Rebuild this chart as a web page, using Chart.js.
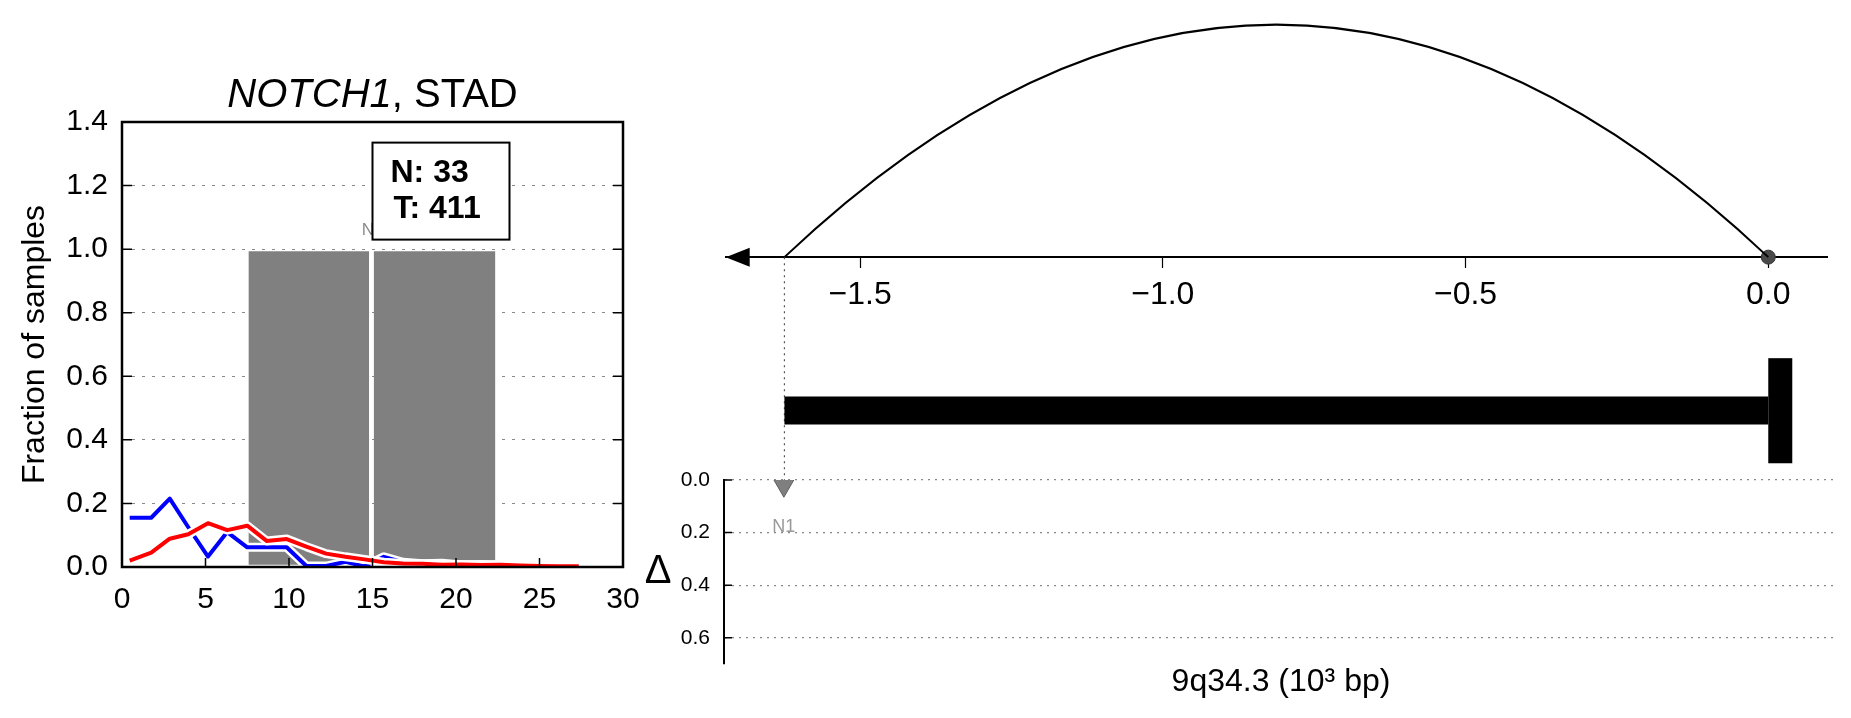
<!DOCTYPE html>
<html>
<head>
<meta charset="utf-8">
<script src="https://cdn.jsdelivr.net/npm/chart.js@4.4.0/dist/chart.umd.min.js"></script>
<style>
  html, body { margin: 0; padding: 0; background: #fff; }
  body { width: 1851px; height: 718px; position: relative; overflow: hidden; }
  canvas { position: absolute; }
  #fracChart { left: 0; top: 0; }
  #arcChart { left: 700px; top: 0; }
  #deltaChart { left: 600px; top: 440px; }
</style>
</head>
<body>
<canvas id="fracChart" width="680" height="718"></canvas>
<canvas id="arcChart" width="1151" height="480"></canvas>
<canvas id="deltaChart" width="1251" height="278"></canvas>
<script>
const FONT = "'Liberation Sans', Arial, sans-serif";

// left panel: fraction of samples
const fracX = [0.46, 1.75, 2.86, 3.97, 5.15, 6.3, 7.5, 8.66, 9.86, 11.04, 12.22, 13.38,
  14.52, 15.68, 16.82, 17.99, 19.16, 20.33, 21.5, 22.67, 23.84, 25.01, 26.18, 27.35];
const seriesBlue = [0.155, 0.155, 0.215, 0.125, 0.033, 0.11, 0.062, 0.062, 0.062, 0.003, 0.003, 0.016,
  0.002, 0.032, 0.015, 0.01, 0.012, 0.006, 0.008, 0.006, 0.004, 0.003, 0.002, 0.002];
const seriesRed = [0.02, 0.045, 0.089, 0.103, 0.138, 0.116, 0.13, 0.082, 0.088, 0.064, 0.042, 0.032,
  0.024, 0.015, 0.011, 0.01, 0.007, 0.008, 0.006, 0.007, 0.005, 0.003, 0.002, 0.002];
const shadeBins = [[7.57, 14.8], [15.07, 22.36]];
const shadeLow = 0.007;
const shadeHigh = 0.993;
const fracYTicks = [0, 0.2, 0.4, 0.6, 0.8, 1.0, 1.2, 1.4];
const fracXTicks = [0, 5, 10, 15, 20, 25, 30];
const countLines = ["N: 33", "T: 411"];
const countAnchor = { x: 15, y: 1.03 };
const sampleName = "N1";
const samplePos = { x: 15, y: 1.044 };

// right panel: genomic coordinates
const coordTicks = [-1.5, -1.0, -0.5, 0.0];
const arcStart = -1.625, arcEnd = 0.0, arcPeak = 1.038;
const geneStart = -1.625, geneEnd = 0.0, geneY = -0.684;
const capTop = -0.451, capBottom = -0.92;
const deltaTicks = [0, 0.2, 0.4, 0.6];
const markerX = [-1.625];
const markerDelta = [0.02];
const markerLabelDelta = 0.18;

const fmt1 = v => Number(v).toFixed(1);
const fmtMinus = v => (v < 0 ? "\u2212" : "") + Math.abs(v).toFixed(1);

function pts(xs, ys) { return xs.map((x, i) => ({ x: x, y: ys[i] })); }

// ---------- left chart ----------
const fracFrame = {
  id: "fracFrame",
  afterDatasetsDraw(chart) {
    const { ctx, chartArea: a, scales: { x, y } } = chart;
    ctx.save();
    // sample label (partly hidden by box)
    ctx.fillStyle = "#8c8c8c";
    ctx.font = "17px " + FONT;
    ctx.textAlign = "center";
    ctx.textBaseline = "alphabetic";
    ctx.fillText(sampleName, x.getPixelForValue(samplePos.x), y.getPixelForValue(samplePos.y));

    // frame
    ctx.strokeStyle = "#000";
    ctx.lineWidth = 2.5;
    ctx.strokeRect(a.left, a.top, a.right - a.left, a.bottom - a.top);
    ctx.lineWidth = 1.5;
    ctx.beginPath();
    fracYTicks.forEach(v => {
      const py = y.getPixelForValue(v);
      ctx.moveTo(a.left, py); ctx.lineTo(a.left + 10, py);
      ctx.moveTo(a.right, py); ctx.lineTo(a.right - 10, py);
    });
    fracXTicks.forEach(v => {
      const px = x.getPixelForValue(v);
      ctx.moveTo(px, a.bottom); ctx.lineTo(px, a.bottom - 9);
    });
    ctx.stroke();

    // count box
    const bx = x.getPixelForValue(countAnchor.x);
    const by = y.getPixelForValue(countAnchor.y);
    const bw = 137, bh = 97;
    ctx.fillStyle = "#fff";
    ctx.fillRect(bx, by - bh, bw, bh);
    ctx.lineWidth = 2;
    ctx.strokeRect(bx, by - bh, bw, bh);
    ctx.fillStyle = "#000";
    ctx.font = "bold 32px " + FONT;
    ctx.textAlign = "left";
    ctx.fillText(countLines[0], bx + 18, by - bh + 39);
    ctx.fillText(countLines[1], bx + 21, by - bh + 75);

    // title
    const cx = (a.left + a.right) / 2;
    ctx.font = "italic 40px " + FONT;
    const w1 = ctx.measureText("NOTCH1").width;
    ctx.font = "40px " + FONT;
    const w2 = ctx.measureText(", STAD").width;
    const tx = cx - (w1 + w2) / 2;
    ctx.font = "italic 40px " + FONT;
    ctx.fillText("NOTCH1", tx, a.top - 15);
    ctx.font = "40px " + FONT;
    ctx.fillText(", STAD", tx + w1, a.top - 15);
    ctx.restore();
  }
};

const shadeSets = shadeBins.map(b => ({
  data: [{ x: b[0], y: shadeHigh }, { x: b[1], y: shadeHigh }],
  borderWidth: 0,
  backgroundColor: "#808080",
  fill: { value: shadeLow },
  pointRadius: 0,
  order: 5
}));

new Chart(document.getElementById("fracChart"), {
  type: "line",
  data: {
    datasets: [
      { data: pts(fracX, seriesRed), borderColor: "#ff0000", borderWidth: 4, pointRadius: 0, borderJoinStyle: "round", order: 1 },
      { data: pts(fracX, seriesRed), borderColor: "#ffffff", borderWidth: 9, pointRadius: 0, borderJoinStyle: "round", order: 2 },
      { data: pts(fracX, seriesBlue), borderColor: "#0000ff", borderWidth: 4, pointRadius: 0, borderJoinStyle: "round", order: 3 },
      { data: pts(fracX, seriesBlue), borderColor: "#ffffff", borderWidth: 9, pointRadius: 0, borderJoinStyle: "round", order: 4 },
      ...shadeSets
    ]
  },
  options: {
    responsive: false,
    animation: false,
    layout: { padding: { top: 122, right: 57, left: 0, bottom: 0 } },
    plugins: { legend: { display: false }, tooltip: { enabled: false } },
    scales: {
      x: {
        type: "linear", min: 0, max: 30,
        afterBuildTicks: s => { s.ticks = fracXTicks.map(v => ({ value: v })); },
        afterFit: s => { s.height = 151; },
        ticks: { font: { size: 30, family: FONT }, color: "#000", padding: 7, autoSkip: false, maxRotation: 0 },
        grid: { display: false },
        border: { display: false }
      },
      y: {
        type: "linear", min: 0, max: 1.4,
        afterBuildTicks: s => { s.ticks = fracYTicks.map(v => ({ value: v })); },
        afterFit: s => { s.width = 122; },
        ticks: { callback: fmt1, font: { size: 30, family: FONT }, color: "#000", padding: 14, autoSkip: false },
        grid: { color: "#8a8a8a", lineWidth: 1, drawTicks: false },
        border: { display: false, dash: [3, 7] },
        title: { display: true, text: "Fraction of samples", font: { size: 32, family: FONT }, color: "#000", padding: { top: 16, bottom: 0 } }
      }
    }
  },
  plugins: [fracFrame]
});

// ---------- right top chart ----------
const arcDecor = {
  id: "arcDecor",
  afterDatasetsDraw(chart) {
    const { ctx, chartArea: a, scales: { x, y } } = chart;
    ctx.save();
    // arc (parabola through the two ends)
    const x0 = x.getPixelForValue(arcStart), x1 = x.getPixelForValue(arcEnd);
    const xm = x.getPixelForValue((arcStart + arcEnd) / 2);
    const y0 = y.getPixelForValue(0), yc = y.getPixelForValue(2 * arcPeak);
    ctx.strokeStyle = "#000";
    ctx.lineWidth = 2;
    ctx.beginPath();
    ctx.moveTo(x0, y0);
    ctx.quadraticCurveTo(xm, yc, x1, y0);
    ctx.stroke();
    // arrow head at left end of axis
    ctx.fillStyle = "#000";
    ctx.beginPath();
    ctx.moveTo(a.left, y0);
    ctx.lineTo(a.left + 24, y0 - 9.5);
    ctx.lineTo(a.left + 24, y0 + 9.5);
    ctx.closePath();
    ctx.fill();
    // gene end cap
    const gx = x.getPixelForValue(geneEnd);
    const gt = y.getPixelForValue(capTop), gb = y.getPixelForValue(capBottom);
    ctx.fillRect(gx, gt, 24, gb - gt);
    ctx.restore();
  }
};

new Chart(document.getElementById("arcChart"), {
  type: "scatter",
  data: {
    datasets: [
      { data: [{ x: arcEnd, y: 0 }], pointRadius: 7, backgroundColor: "#4a4a4a", borderColor: "#333", borderWidth: 1, order: 1 },
      { type: "line", data: [{ x: geneStart, y: geneY }, { x: geneEnd, y: geneY }], borderColor: "#000", borderWidth: 28, borderCapStyle: "butt", pointRadius: 0, order: 2 },
      { type: "line", data: [{ x: markerX[0], y: 0 }, { x: markerX[0], y: -1.1 }], borderColor: "#555", borderWidth: 1.2, borderDash: [2, 4], pointRadius: 0, clip: false, order: 3 }
    ]
  },
  options: {
    responsive: false,
    animation: false,
    layout: { padding: { left: 25.7, right: 24, top: 0, bottom: 0 } },
    plugins: { legend: { display: false }, tooltip: { enabled: false } },
    scales: {
      x: {
        type: "linear", min: -1.722, max: 0.097, position: { y: 0 },
        afterBuildTicks: s => { s.ticks = coordTicks.map(v => ({ value: v })); },
        ticks: { callback: fmtMinus, font: { size: 32, family: FONT }, color: "#000", padding: 9, autoSkip: false, maxRotation: 0 },
        grid: { drawOnChartArea: false, drawTicks: true, tickLength: 10, tickColor: "#000", tickWidth: 1.2 },
        border: { display: true, color: "#000", width: 2 }
      },
      y: { type: "linear", display: false, min: -0.959, max: 1.112 }
    }
  },
  plugins: [arcDecor]
});

// ---------- right bottom chart ----------
const deltaDecor = {
  id: "deltaDecor",
  afterDatasetsDraw(chart) {
    const { ctx, chartArea: a, scales: { x, y } } = chart;
    ctx.save();
    ctx.strokeStyle = "#000";
    ctx.lineWidth = 1.5;
    ctx.beginPath();
    deltaTicks.forEach(v => {
      const py = y.getPixelForValue(v);
      ctx.moveTo(a.left, py); ctx.lineTo(a.left + 8, py);
    });
    ctx.stroke();
    ctx.fillStyle = "#000";
    ctx.font = "40px " + FONT;
    ctx.textAlign = "center";
    ctx.textBaseline = "middle";
    ctx.fillText("\u0394", a.left - 66, (a.top + a.bottom) / 2);
    ctx.fillStyle = "#999";
    ctx.font = "18px " + FONT;
    ctx.fillText(sampleName, x.getPixelForValue(markerX[0]), y.getPixelForValue(markerLabelDelta));
    ctx.restore();
  }
};

new Chart(document.getElementById("deltaChart"), {
  type: "scatter",
  data: {
    datasets: [{
      data: pts(markerX, markerDelta),
      pointStyle: "triangle", rotation: 180, pointRadius: 12,
      backgroundColor: "rgba(105,105,105,0.85)", borderColor: "rgba(85,85,85,0.9)", borderWidth: 1
    }]
  },
  options: {
    responsive: false,
    animation: false,
    layout: { padding: { top: 40, right: 0, left: 0, bottom: 0 } },
    plugins: { legend: { display: false }, tooltip: { enabled: false } },
    scales: {
      x: {
        type: "linear", min: -1.725, max: 0.136,
        afterFit: s => { s.height = 54; },
        ticks: { display: false },
        grid: { display: false },
        border: { display: false },
        title: { display: true, text: "9q34.3 (10\u00b3 bp)", font: { size: 32, family: FONT }, color: "#000", padding: { top: 0, bottom: 17 } }
      },
      y: {
        type: "linear", reverse: true, min: 0, max: 0.7,
        afterBuildTicks: s => { s.ticks = deltaTicks.map(v => ({ value: v })); },
        afterFit: s => { s.width = 124; },
        ticks: { callback: fmt1, font: { size: 21, family: FONT }, color: "#000", padding: 14, autoSkip: false },
        grid: { color: "#888", lineWidth: 1.2, drawTicks: false },
        border: { display: true, color: "#000", width: 2, dash: [2, 5] }
      }
    }
  },
  plugins: [deltaDecor]
});
</script>
</body>
</html>
